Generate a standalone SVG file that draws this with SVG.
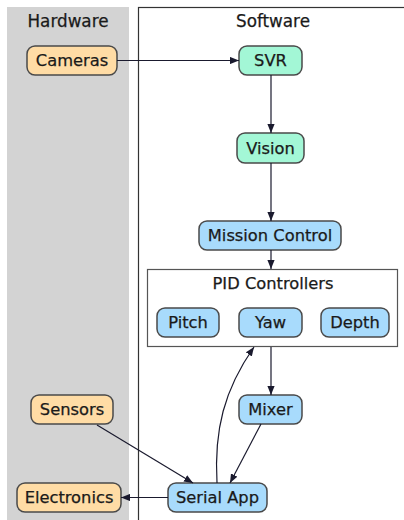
<svg xmlns="http://www.w3.org/2000/svg" width="404" height="520" viewBox="0 0 404 520">
<defs>
<marker id="ah" viewBox="0 0 10 8" refX="10" refY="4" markerWidth="9" markerHeight="7.5" markerUnits="userSpaceOnUse" orient="auto">
<path d="M0,0 L10,4 L0,8 z" fill="#1a1a2e"/>
</marker>
<style>
text{font-family:"DejaVu Sans",sans-serif;fill:#1a1a1a;stroke:#1a1a1a;stroke-width:0.25;text-anchor:middle}
.hdr{font-size:16.8px}
.lbl{font-size:16.3px}
.n rect{stroke:#4a4a4a;stroke-width:1.5}
.hw rect{fill:#ffdca5}
.gr rect{fill:#a3f7d6}
.bl rect{fill:#a8dbfc}
.e{fill:none;stroke:#1a1a2e;stroke-width:1.2;marker-end:url(#ah)}
</style>
</defs>
<rect width="404" height="520" fill="#fff"/>
<g id="hardware-panel">
<rect x="7" y="7" width="122" height="520" fill="#d3d3d3"/>
<text class="hdr" x="68" y="27">Hardware</text>
</g>
<g id="software-panel">
<rect x="138.5" y="7.5" width="280" height="520" fill="#fff" stroke="#333" stroke-width="1.2"/>
<text class="hdr" x="273" y="27">Software</text>
</g>
<g id="pid-controllers">
<rect x="147.5" y="269.5" width="250" height="77" fill="#fff" stroke="#555" stroke-width="1.2"/>
<text class="lbl" x="273" y="289">PID Controllers</text>
</g>
<g id="cameras" class="n hw"><rect x="27" y="46" width="90" height="29" rx="8"/><text class="lbl" x="72" y="66">Cameras</text></g>
<g id="svr" class="n gr"><rect x="239" y="46" width="63" height="29" rx="8"/><text class="lbl" x="270.5" y="66">SVR</text></g>
<g id="vision" class="n gr"><rect x="237" y="133" width="67" height="30" rx="8"/><text class="lbl" x="270.5" y="153.5">Vision</text></g>
<g id="mission-control" class="n bl"><rect x="199" y="221" width="142" height="29" rx="8"/><text class="lbl" x="270" y="241">Mission Control</text></g>
<g id="pitch" class="n bl"><rect x="157" y="308" width="62" height="29" rx="8"/><text class="lbl" x="188" y="328">Pitch</text></g>
<g id="yaw" class="n bl"><rect x="239" y="308" width="63" height="29" rx="8"/><text class="lbl" x="270.5" y="328">Yaw</text></g>
<g id="depth" class="n bl"><rect x="321" y="308" width="68" height="29" rx="8"/><text class="lbl" x="355" y="328">Depth</text></g>
<g id="mixer" class="n bl"><rect x="239" y="395" width="63" height="29" rx="8"/><text class="lbl" x="270.5" y="415">Mixer</text></g>
<g id="sensors" class="n hw"><rect x="31" y="395" width="82" height="29" rx="8"/><text class="lbl" x="72" y="415">Sensors</text></g>
<g id="electronics" class="n hw"><rect x="17" y="483" width="104" height="29" rx="8"/><text class="lbl" x="69" y="503">Electronics</text></g>
<g id="serial-app" class="n bl"><rect x="168" y="483" width="99" height="29" rx="8"/><text class="lbl" x="217.5" y="503">Serial App</text></g>
<g id="connectors">
<path class="e" d="M117,60.5 H239"/>
<path class="e" d="M271,75 V133"/>
<path class="e" d="M271,163 V221"/>
<path class="e" d="M271,250 V269"/>
<path class="e" d="M271,347 V395"/>
<path class="e" d="M217,483 C214,430 224,390 254,347"/>
<path class="e" d="M261,424 L230,483"/>
<path class="e" d="M97,425 L193,483"/>
<path class="e" d="M168,497.5 H121"/>
</g>
</svg>
